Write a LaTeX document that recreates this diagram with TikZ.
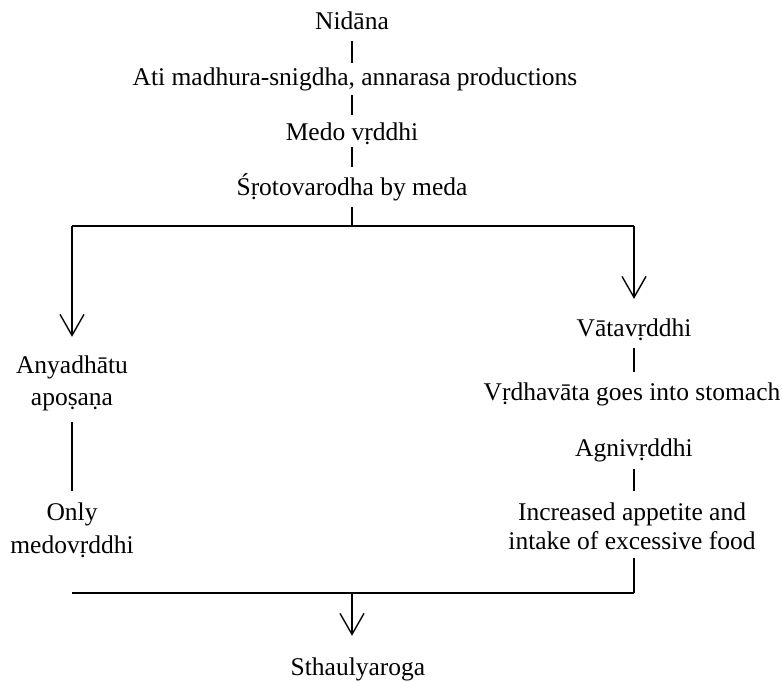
\documentclass[tikz,border=0pt]{standalone}
\usepackage{fontspec}
\setmainfont{Liberation Serif}
\usetikzlibrary{arrows.meta}
\begin{document}
\begin{tikzpicture}[x=1pt,y=-1pt,
  lbl/.style={font=\fontsize{25.5}{31}\selectfont, inner sep=0pt, text height=18pt, text depth=6pt, anchor=base},
  conn/.style={line width=1.7pt},
  arr/.style={line width=1.4pt, -{Straight Barb[length=21pt,width=24pt,line width=1.4pt]}}]
\useasboundingbox (0,0) rectangle (782,682);
% top chain
\node[lbl] (nid) at (352,30) {Nidāna};
\node[lbl] (ati) at (355,86) {Ati madhura-snigdha, annarasa productions};
\node[lbl] (med) at (352,141) {Medo vṛddhi};
\node[lbl] (sro) at (352,196) {Śṛotovarodha by meda};
\draw[conn, shorten <=5pt, shorten >=5pt] (nid.south) -- (nid.south |- ati.north);
\draw[conn, shorten <=3pt, shorten >=8pt] (nid.south |- ati.south) -- (nid.south |- med.north);
\draw[conn, shorten <=0pt, shorten >=11pt] (med.south) -- (med.south |- sro.north);
% split
\coordinate (jl) at (72,226);
\coordinate (jr) at (634,226);
\draw[conn, shorten <=5pt] (sro.south) -- (sro.south |- jl);
\draw[conn] (jl) -- (jr);
% left column
\node[lbl] (any1) at (72,373) {Anyadhātu};
\node[lbl] (any2) at (72,405) {apoṣaṇa};
\node[lbl] (only1) at (72,520) {Only};
\node[lbl] (only2) at (72,553) {medovṛddhi};
\draw[arr, shorten >=18pt] (jl) -- (jl |- any1.north);
\draw[line width=1.4pt, shorten <=11pt, shorten >=11pt] (any2.south) -- (any2.south |- only1.north);
% right column
\node[lbl] (vat) at (634,336) {Vātavṛddhi};
\node[lbl] (vrd) at (632,400) {Vṛdhavāta goes into stomach};
\node[lbl] (agn) at (634,456) {Agnivṛddhi};
\node[lbl] (inc1) at (632,520) {Increased appetite and};
\node[lbl] (inc2) at (632,549) {intake of excessive food};
\draw[arr, shorten >=19pt] (jr) -- (jr |- vat.north);
\draw[conn, shorten <=6pt, shorten >=10pt] (vat.south) -- (vat.south |- vrd.north);
\draw[conn, shorten <=7pt, shorten >=11pt] (agn.south) -- (agn.south |- inc1.north);
% merge
\coordinate (bl) at (72,593);
\coordinate (br) at (634,593);
\coordinate (bm) at (352,593);
\draw[conn, shorten <=3pt] (agn.south |- inc2.south) -- (br);
\draw[conn] (br) -- (bl);
\node[lbl] (sth) at (358,675) {Sthaulyaroga};
\draw[arr, shorten >=21pt] (bm) -- (bm |- sth.north);
\end{tikzpicture}
\end{document}
